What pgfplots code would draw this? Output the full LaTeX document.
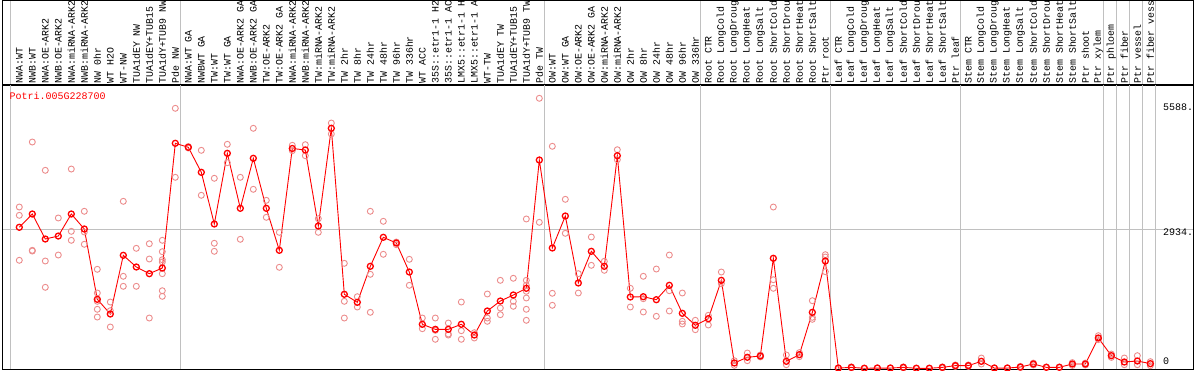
\documentclass[border=0pt]{standalone}
\usepackage{fontspec}
\usepackage{pgfplots}
\pgfplotsset{compat=1.18}
\newfontfamily\lmono{Liberation Mono}
\definecolor{gridgray}{RGB}{192,192,192}
\definecolor{repred}{RGB}{236,140,140}
\definecolor{meanred}{RGB}{255,0,0}
\begin{document}
\begin{tikzpicture}[font=\lmono\fontsize{10}{11}\selectfont]
\begin{axis}[
  at={(0,0)}, anchor=south west,
  scale only axis, width=1191pt, height=284pt,
  xmin=-0.331, xmax=91.285, ymin=-14.7, ymax=5967,
  clip=false,
  axis line style={black, line width=1pt},
  xtick={1,...,88},
  xticklabels={NWA:WT, NWB:WT, NWA:OE-ARK2, NWB:OE-ARK2, NWA:miRNA-ARK2, NWB:miRNA-ARK2, NW 0hr, WT H2O, WT-NW, TUA1dEY NW, TUA1dEY+TUB15, TUA1dY+TUB9 NW, Pde NW, NWA:WT GA, NWBWT GA, TW:WT, TW:WT GA, NWA:OE-ARK2 GA, NWB:OE-ARK2 GA, TW:OE-ARK2, TW:OE-ARK2 GA, NWA:miRNA-ARK2, NWB:miRNA-ARK2, TW:miRNA-ARK2, TW:miRNA-ARK2, TW 2hr, TW 8hr, TW 24hr, TW 48hr, TW 96hr, TW 336hr, WT ACC, 35S::etr1-1 H2, 35S::etr1-1 AC, LMX5::etr1-1 H, LMX5::etr1-1 A, WT-TW, TUA1dEY TW, TUA1dEY+TUB15, TUA1dY+TUB9 TW, Pde TW, OW:WT, OW:WT GA, OW:OE-ARK2, OW:OE-ARK2 GA, OW:miRNA-ARK2, OW:miRNA-ARK2, OW 2hr, OW 8hr, OW 24hr, OW 48hr, OW 96hr, OW 336hr, Root CTR, Root LongCold, Root LongDroug, Root LongHeat, Root LongSalt, Root ShortCold, Root ShortDrou, Root ShortHeat, Root ShortSalt, Ptr root, Leaf CTR, Leaf LongCold, Leaf LongDroug, Leaf LongHeat, Leaf LongSalt, Leaf ShortCold, Leaf ShortDrou, Leaf ShortHeat, Leaf ShortSalt, Ptr leaf, Stem CTR, Stem LongCold, Stem LongDroug, Stem LongHeat, Stem LongSalt, Stem ShortCold, Stem ShortDrou, Stem ShortHeat, Stem ShortSalt, Ptr shoot, Ptr xylem, Ptr phloem, Ptr fiber, Ptr vessel, Ptr fiber vess},
  xticklabel pos=upper,
  xticklabel style={rotate=90, anchor=west, inner sep=0pt, inner xsep=1.2pt, font=\lmono\fontsize{9.9}{11}\selectfont},
  major tick length=0pt,
  extra x ticks={0.34,13.38,41.38,53.38,63.42,73.38,84.38,85.38,86.42,87.38,88.38},
  extra x tick labels={},
  extra x tick style={grid=major},
  ytick={2934}, yticklabels={}, ymajorgrids,
  major grid style={gridgray, line width=1pt},
]
\pgfplotsinvokeforeach{0.34,13.38,41.38,53.38,63.42,73.38,84.38,85.38,86.42,87.38,88.38}{
  \draw[gridgray, line width=1pt] (axis cs:#1,5967) -- ++(0pt,84.5pt);
}
\addplot[only marks, mark=o, mark size=3pt, repred, mark options={line width=0.9pt}] table {
x y
1 3397
1 3222
1 2275
2 4766
2 2485
2 2470
3 4170
3 2260
3 1706
4 3166
4 2386
5 4197
5 2885
5 2696
6 3307
6 2871
6 2612
7 2085
7 1586
7 1411
7 1243
7 1080
8 1396
8 1213
8 870
9 3517
9 1938
9 1727
10 2527
10 1727
11 2624
11 2302
11 1059
12 2696
12 2456
12 2287
12 2239
12 1993
12 1634
12 1516
13 5476
13 4023
14 4670
14 4640
15 4591
15 3644
16 4002
16 2633
16 2464
17 4718
17 4331
18 4023
18 2717
19 5055
19 3770
20 3538
20 3180
21 2864
21 2127
22 4697
22 4584
23 4710
23 4478
24 3151
24 2864
25 5166
25 4935
26 2211
26 1411
26 1059
27 1508
27 1291
28 3307
28 1980
28 1179
29 3096
29 2401
30 2660
30 2603
31 2296
31 1748
32 1059
32 834
33 1059
33 611
33 800
34 954
34 722
34 701
35 1396
35 792
35 611
36 750
36 638
37 1565
37 1059
37 990
38 1853
38 1270
38 1129
39 1896
39 1411
39 1306
40 3145
40 1853
40 1748
40 1622
40 1481
40 1243
40 1011
41 5687
41 3075
42 4676
42 1580
42 1327
43 3559
43 2843
44 1993
44 1586
45 2765
45 2169
46 2254
46 2064
47 4604
47 4393
48 1685
48 1291
49 1938
49 1466
49 1186
50 2091
50 1095
51 2386
51 1634
51 1207
52 1586
52 990
52 933
53 1011
53 813
54 1116
54 912
55 2028
55 1782
56 160
56 63
57 322
57 160
58 280
58 240
59 3397
59 1866
59 1685
60 280
60 76
61 330
61 245
62 1424
62 1074
62 1032
63 2393
63 2344
63 2035
64 10
64 0
65 30
65 10
66 5
67 10
68 10
69 30
69 10
70 5
71 5
72 30
72 10
73 70
73 40
74 70
74 40
75 217
75 90
76 10
77 10
78 40
78 15
79 110
79 70
80 30
81 30
82 120
82 60
83 110
83 70
84 687
84 604
85 300
85 230
86 217
86 76
87 266
87 76
88 140
88 56
};
\addplot[meanred, line width=0.9pt, mark=o, mark size=3pt, mark options={line width=1.3pt}] table {
x y
1 2970
2 3250
3 2723
4 2786
5 3250
6 2934
7 1453
8 1144
9 2380
10 2134
11 1993
12 2112
13 4739
14 4655
15 4128
16 3039
17 4528
18 3370
19 4423
20 3370
21 2485
22 4630
23 4598
24 2997
25 5055
26 1559
27 1390
28 2148
29 2759
30 2639
31 2028
32 927
33 821
34 821
35 927
36 701
37 1207
38 1417
39 1544
40 1685
41 4387
42 2534
43 3208
44 1797
45 2464
46 2148
47 4478
48 1502
49 1508
50 1445
51 1748
52 1158
53 906
54 1045
55 1853
56 112
57 232
58 259
59 2317
60 147
61 287
62 1179
63 2260
64 5
65 20
66 0
67 5
68 5
69 20
70 0
71 0
72 20
73 56
74 56
75 147
76 5
77 5
78 27
79 91
80 20
81 20
82 91
83 91
84 638
85 266
86 133
87 154
88 98
};
\end{axis}
\node[meanred, anchor=base west, inner sep=0pt] at (7.5pt,269pt) {Potri.005G228700};
\node[anchor=base west, inner sep=0pt] at (1161pt,258pt) {5588.};
\node[anchor=base west, inner sep=0pt] at (1161pt,133.3pt) {2934.};
\node[anchor=base west, inner sep=0pt] at (1161pt,4.3pt) {0};
\draw[line width=1pt] (0pt,284pt) rectangle (1191pt,368.5pt);
\pgfresetboundingbox
\path[use as bounding box] (-2pt,-1pt) rectangle (1192pt,369pt);
\end{tikzpicture}
\end{document}
